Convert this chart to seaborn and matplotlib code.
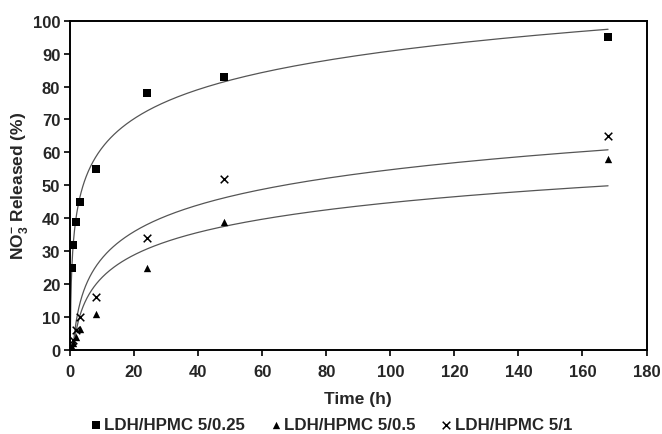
import numpy as np
import pandas as pd
import seaborn as sns
from matplotlib import pyplot as plt

# release data
time_h = [0.5, 1, 2, 3, 8, 24, 48, 168]
rel_025 = [25, 32, 39, 45, 55, 78, 83, 95]
rel_05 = [0.5, 2, 4, 6.5, 11, 25, 39, 58]
rel_1 = [1, 3, 6, 10, 16, 34, 52, 65]

labels = ["LDH/HPMC 5/0.25", "LDH/HPMC 5/0.5", "LDH/HPMC 5/1"]
markers = ["s", "^", "x"]
x_ticks = list(range(0, 181, 20))
y_ticks = list(range(0, 101, 10))

sns.set_style("ticks")
plt.rcParams["font.family"] = ["Liberation Sans", "DejaVu Sans"]
plt.rcParams["font.weight"] = "bold"
plt.rcParams["mathtext.fontset"] = "custom"
plt.rcParams["mathtext.bf"] = "Liberation Sans:bold"
plt.rcParams["mathtext.rm"] = "Liberation Sans:bold"

fig = plt.figure(figsize=(6.62, 4.35), dpi=100)
ax = fig.add_axes([70 / 662, 1 - 351 / 435, 576.5 / 662, 329.3 / 435])

series = [rel_025, rel_05, rel_1]
t_fit = np.geomspace(0.05, 168, 400)
for vals, lab, mk in zip(series, labels, markers):
    df = pd.DataFrame({"t": time_h, "y": vals})
    # logarithmic trend line, as in the original
    b, a = np.polyfit(np.log(df["t"]), df["y"], 1)
    fit = pd.DataFrame({"t": t_fit, "y": a + b * np.log(t_fit)})
    sns.lineplot(data=fit, x="t", y="y", color="#555555", linewidth=0.9,
                 legend=False, ax=ax)
    kw = dict(s=30, linewidth=1.1) if mk == "x" else dict(s=28, linewidth=0)
    sns.scatterplot(data=df, x="t", y="y", marker=mk, color="black",
                    label=lab, ax=ax, zorder=3, **kw)

handles, labs = ax.get_legend_handles_labels()
if ax.get_legend() is not None:
    ax.get_legend().remove()

ax.set_xlim(0, 180)
ax.set_ylim(0, 100)
ax.set_xticks(x_ticks)
ax.set_yticks(y_ticks)
ax.tick_params(labelsize=12, length=4, width=1.2, color="black", pad=3)
ax.tick_params(axis="x", pad=6)
for lbl in ax.get_xticklabels() + ax.get_yticklabels():
    lbl.set_fontweight("bold")
for sp in ax.spines.values():
    sp.set_visible(True)
    sp.set_linewidth(1.4)
    sp.set_color("black")

ax.set_xlabel("Time (h)", fontsize=12.5, fontweight="bold", labelpad=9)
ax.set_ylabel(r"NO$_\mathbf{3}^\mathbf{-}$ Released (%)", fontsize=12.5,
              fontweight="bold", labelpad=2)

fig.legend(handles, labs, loc="center", bbox_to_anchor=(0.5015, 1 - 426 / 435),
           ncol=3, frameon=False, fontsize=12.2, handlelength=0.5,
           handletextpad=0.25, columnspacing=1.55, borderaxespad=0,
           borderpad=0)

fig.savefig("out.png", dpi=100)
